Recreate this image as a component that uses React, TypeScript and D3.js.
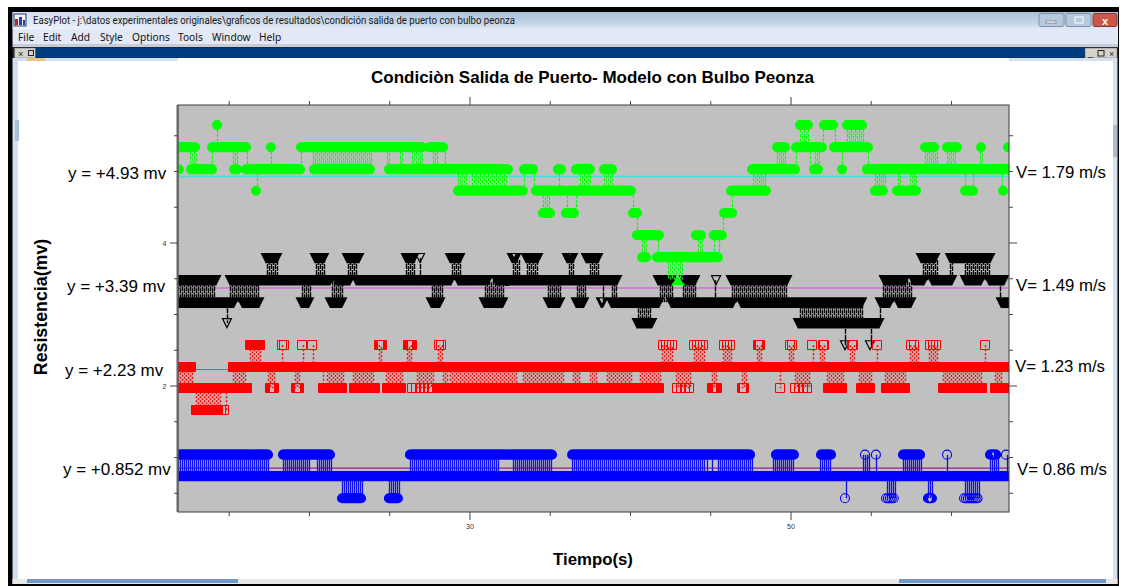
import React from "react";
import * as d3 from "d3";

type Run = number[];

const xDomain = [11.81, 63.58];
const yDomain = [0.238, 5.93];
const xTicks = [15, 20, 25, 30, 35, 40, 45, 50, 55, 60];
const xLabelled = [30, 50];
const yTicks = [0.5, 1, 1.5, 2, 2.5, 3, 3.5, 4, 4.5, 5, 5.5];
const yLabelled = [2, 4];

const title = "Condiciòn Salida de Puerto- Modelo con Bulbo Peonza";
const xTitle = "Tiempo(s)";
const yTitle = "Resistencia(mv)";
const meanLabels = ["y = +4.93 mv", "y = +3.39 mv", "y = +2.23 mv", "y = +0.852 mv"];
const speedLabels = ["V= 1.79 m/s", "V= 1.49 m/s", "V= 1.23 m/s", "V= 0.86 m/s"];
const meanValues = [4.93, 3.37, 2.23, 0.852];
const menuItems = ["File", "Edit", "Add", "Style", "Options", "Tools", "Window", "Help"];

// Each row: [level, runs]; a run is [tStart, tEnd, optional sampling interval]
const greenRows: [number, Run[]][] = [
  [5.65, [[14.24, 14.24], [50.56, 51.12], [52.06, 52.68], [53.49, 54.48]]],
  [5.34, [[11.81, 12.87], [13.93, 16.05], [17.6, 17.6], [19.47, 27.07], [27.45, 28.38], [49.13, 49.63], [50.31, 51.93], [52.68, 54.86], [58.35, 58.97], [59.72, 60.4], [61.84, 61.84], [63.52, 63.52]]],
  [5.03, [[11.8, 11.9], [12.62, 13.93], [15.3, 15.49], [16.05, 19.47], [20.28, 23.77], [24.95, 32.37], [33.37, 33.99], [35.48, 35.67], [36.6, 37.48], [38.35, 38.91], [47.57, 50.31], [51.43, 51.74], [53.18, 53.18], [54.73, 63.64]]],
  [4.73, [[16.67, 16.73], [29.25, 33.3], [34.11, 35.92], [36.23, 40.09], [46.26, 48.5], [55.23, 55.79], [56.6, 57.79], [60.84, 61.34], [63.21, 63.21]]],
  [4.42, [[34.55, 34.99], [35.98, 36.54], [40.16, 40.47], [45.83, 46.39]]],
  [4.11, [[40.4, 41.78], [44.08, 44.45], [45.2, 45.76]]],
  [3.8, [[40.72, 41.03], [41.65, 45.51]]],
];
const greenLinks: [number, number, Run[]][] = [
  [5.65, 5.34, [[14.24, 14.3], [50.56, 51.18], [51.99, 51.99], [52.74, 52.74], [53.49, 54.61]]],
  [5.34, 5.03, [[11.81, 11.93], [12.56, 13.0], [13.93, 13.93], [15.24, 15.49], [16.11, 16.11], [17.6, 17.6], [19.47, 19.47], [20.22, 23.96], [24.83, 25.02], [25.64, 25.83], [26.39, 27.07], [27.7, 27.95], [28.44, 28.44], [49.13, 49.75], [50.31, 50.31], [51.18, 51.18], [51.49, 51.74], [53.18, 53.18], [54.8, 54.8], [58.35, 59.1], [59.72, 60.34], [61.77, 61.96]]],
  [5.03, 4.73, [[16.73, 16.73], [29.25, 29.81], [30.13, 32.37], [33.37, 33.37], [33.99, 33.99], [35.55, 35.67], [36.85, 37.48], [38.35, 38.91], [47.63, 48.5], [55.23, 55.86], [56.67, 56.91], [57.41, 57.85], [60.84, 60.84], [61.34, 61.34], [63.14, 63.14]]],
  [4.73, 4.42, [[34.55, 34.99], [36.04, 36.04], [36.6, 36.6], [40.16, 40.16], [46.32, 46.32]]],
  [4.42, 4.11, [[40.4, 40.4], [45.76, 45.76]]],
  [4.11, 3.8, [[40.72, 41.03], [41.71, 41.71], [44.21, 44.52], [45.2, 45.2], [45.51, 45.51]]],
  [3.8, 3.49, [[42.34, 43.27]]],
];
const greenTip = [[42.96, 3.47]];

const blackRows: [number, Run[]][] = [
  [3.79, [[17.29, 17.98], [20.34, 20.91], [22.34, 23.09], [26.01, 26.51], [26.89, 26.89], [28.76, 29.44], [32.62, 32.93], [33.49, 34.24], [36.04, 36.42], [37.23, 37.98], [58.1, 59.03], [59.91, 62.46]]],
  [3.48, [[11.81, 14.18], [15.05, 21.28], [21.65, 22.53], [22.9, 28.88], [29.25, 31.12], [31.62, 39.16], [41.71, 42.59], [43.33, 44.02], [45.33, 45.33], [46.26, 49.75], [55.79, 57.1], [57.6, 58.29], [58.78, 60.03], [60.84, 61.84], [62.33, 63.27]]],
  [3.17, [[11.81, 15.3], [15.8, 16.92], [19.47, 19.97], [21.28, 22.03], [27.57, 28.19], [30.87, 32.06], [34.86, 35.61], [36.6, 37.1], [38.16, 38.29], [38.79, 41.84], [42.52, 46.39], [46.88, 54.42], [55.54, 56.17], [56.67, 57.54], [63.08, 63.64]]],
  [2.88, [[14.86, 14.86], [40.4, 41.34], [50.44, 55.54]]],
  [2.57, [[53.36, 53.36], [54.92, 54.98]]],
];
const blackLinks: [number, number, Run[]][] = [
  [3.79, 3.48, [[17.35, 17.98], [20.41, 20.91], [22.4, 23.02], [26.01, 26.57], [26.89, 26.89], [28.88, 29.5], [32.68, 33.12], [33.55, 34.24], [36.17, 36.42], [37.48, 37.98], [58.22, 59.1], [59.91, 60.09], [60.84, 62.4]]],
  [3.48, 3.17, [[11.81, 14.11], [15.05, 16.92], [19.53, 20.03], [21.4, 22.03], [27.63, 28.26], [30.94, 32.18], [34.86, 35.61], [36.67, 37.17], [38.29, 38.29], [38.85, 39.16], [41.84, 42.59], [43.27, 44.14], [45.26, 45.26], [46.32, 49.75], [55.73, 57.54], [63.02, 63.02]]],
  [3.17, 2.88, [[14.86, 14.86], [40.47, 41.34], [50.56, 54.48], [55.54, 55.54]]],
  [2.88, 2.57, [[53.36, 53.36], [54.98, 54.98]]],
];

const redRows: [number, Run[]][] = [
  [2.57, [[16.3, 16.98], [18.29, 18.41, 0.12], [19.53, 19.53], [20.16, 20.16], [24.33, 24.52], [26.14, 26.39], [28.07, 28.19, 0.12], [42.02, 42.59, 0.19], [43.96, 44.58, 0.19], [45.83, 46.32, 0.19], [47.94, 48.07], [49.94, 50.06, 0.12], [51.31, 51.31], [51.99, 52.06], [53.8, 53.92], [55.36, 55.36], [57.48, 57.85, 0.19], [58.66, 59.1, 0.19], [62.09, 62.09]]],
  [2.27, [[11.81, 12.62], [15.24, 63.58]]],
  [1.97, [[11.81, 16.11], [17.54, 17.85], [19.16, 19.35], [20.84, 22.03], [22.77, 24.08], [24.83, 25.76], [26.39, 27.82, 0.25], [28.01, 41.84], [42.9, 43.71, 0.25], [45.08, 45.45], [46.95, 47.13], [49.31, 49.31], [50.25, 51.12, 0.25], [52.3, 53.18], [54.36, 54.98], [55.92, 57.16], [59.47, 61.9], [62.71, 63.58]]],
  [1.66, [[12.93, 14.3], [14.3, 14.8, 0.19]]],
];
const redLinks: [number, number, Run[]][] = [
  [2.57, 2.27, [[16.3, 17.04], [18.29, 18.41], [19.6, 19.6], [20.22, 20.22], [24.33, 24.52], [26.08, 26.45], [28.01, 28.26], [41.96, 42.65], [43.96, 44.7], [45.76, 46.38], [47.88, 48.13], [49.87, 50.12], [51.37, 51.37], [51.81, 52.12], [53.68, 54.0], [55.36, 55.36], [57.41, 57.91], [58.6, 59.1], [62.09, 62.09]]],
  [2.27, 1.97, [[11.81, 12.74], [15.24, 16.11], [17.42, 17.91], [19.1, 19.35], [20.84, 20.84], [21.09, 22.09], [22.71, 24.02], [24.77, 25.83], [26.7, 27.82], [28.32, 28.57], [28.76, 33.0], [33.3, 35.92], [36.42, 36.85], [37.48, 37.91], [38.54, 40.09], [40.59, 41.9], [42.83, 43.71], [45.08, 45.45], [46.95, 47.2], [49.31, 49.31], [50.25, 51.18], [52.24, 53.24], [54.24, 55.11], [55.86, 57.23], [59.47, 61.96], [62.71, 63.14]]],
  [1.97, 1.66, [[12.93, 14.55], [14.8, 14.8]]],
];

const blueRows: [number, Run[]][] = [
  [1.04, [[11.81, 17.42], [18.35, 21.28], [26.26, 35.11], [36.36, 47.51], [49.06, 50.19], [51.87, 52.55], [54.61, 54.67], [55.29, 55.29], [56.98, 58.1], [59.72, 59.72], [62.4, 62.83], [63.39, 63.39]]],
  [0.74, [[11.81, 63.58]]],
  [0.43, [[22.03, 23.27], [24.95, 25.52], [53.36, 53.36], [55.92, 56.48, 0.12], [58.53, 58.78], [60.78, 61.71, 0.12]]],
];
const blueLinks: [number, number, Run[]][] = [
  [1.04, 0.74, [[11.81, 17.54], [18.35, 20.03], [20.47, 21.4], [26.26, 31.87], [32.68, 35.17], [36.36, 44.77], [45.08, 45.08], [45.45, 47.63], [48.88, 50.25], [51.81, 52.55], [54.48, 54.92], [55.29, 55.29], [56.98, 58.16], [59.72, 59.72], [62.4, 62.9], [63.46, 63.46]]],
  [0.74, 0.43, [[22.03, 23.34], [24.95, 25.58], [53.42, 53.42], [55.98, 56.6], [58.53, 58.85], [60.84, 61.77]]],
];

const FRAME = { left: 178, right: 1009, top: 105, bottom: 512 };
const x = d3.scaleLinear().domain(xDomain).range([FRAME.left, FRAME.right]);
const y = d3.scaleLinear().domain(yDomain).range([FRAME.bottom, FRAME.top]);

const SAMPLE = 0.0623;
type Shape = "circle" | "tri" | "square" | "ring";
function drawShape(p: d3.Path, s: Shape, px: number, py: number) {
  if (s === "circle" || s === "ring") {
    const r = s === "circle" ? 5 : 4.5;
    p.moveTo(px + r, py);
    p.arc(px, py, r, 0, Math.PI * 2);
  } else if (s === "tri") {
    p.moveTo(px - 4.5, py - 4.5);
    p.lineTo(px + 4.5, py - 4.5);
    p.lineTo(px, py + 4.5);
    p.closePath();
  } else {
    p.rect(Math.round(px) - 4.5, Math.round(py) - 4.5, 9, 9);
  }
}
function markers(rows: [number, Run[]][], s: Shape): string {
  const p = d3.path();
  rows.forEach(([lv, runs]) => {
    const py = y(lv);
    runs.forEach(([a, b, step]) => {
      const h = step ?? SAMPLE;
      for (let t = a; t <= b + 1e-6; t += h) drawShape(p, s, x(t), py);
    });
  });
  return p.toString();
}
function links(rows: [number, number, Run[]][], spacing: number, stagger: number): string {
  const p = d3.path();
  rows.forEach(([hi, lo, runs]) => {
    const y0 = y(hi);
    const y1 = y(lo);
    runs.forEach(([a, b]) => {
      let k = 0;
      for (let t = a; t <= b + 1e-6; t += spacing) {
        const px = Math.round(x(t)) + 0.5;
        p.moveTo(px, y0 + (k % 2) * stagger);
        p.lineTo(px, y1);
        k++;
      }
    });
  });
  return p.toString();
}

const menuX = [18, 43, 71, 100, 132, 178, 212, 259];
const meanLabelPos = [[68, 179], [67, 292], [65, 376], [63, 475]];
const speedLabelPos = [[1016, 178], [1016, 291], [1015, 372], [1017, 475]];

function WinButton({ bx, w, red }: { bx: number; w: number; red?: boolean }) {
  return (
    <rect x={bx} y={13.5} width={w} height={13} rx={2}
      fill={red ? "#c9584a" : "#b4c8de"} stroke={red ? "#8a3a30" : "#7f93a8"} strokeWidth={1} />
  );
}

export default function App() {
  const sans = "'Liberation Sans', Arial, sans-serif";
  const ui = "'Noto Sans', 'Open Sans', sans-serif";
  return (
    <svg width={1121} height={586} viewBox="0 0 1121 586"
      style={{ position: "absolute", left: 0, top: 0, background: "#ffffff" }}>
      <defs>
        <linearGradient id="tb" x1="0" y1="0" x2="0" y2="1">
          <stop offset="0" stopColor="#a9bfd8" />
          <stop offset="0.7" stopColor="#c6d6e8" />
          <stop offset="1" stopColor="#dfe8f3" />
        </linearGradient>
        <linearGradient id="tb2" x1="0" y1="0" x2="1" y2="0">
          <stop offset="0" stopColor="#ffffff" stopOpacity="0.55" />
          <stop offset="0.45" stopColor="#ffffff" stopOpacity="0.25" />
          <stop offset="1" stopColor="#ffffff" stopOpacity="0" />
        </linearGradient>
        <clipPath id="plot">
          <rect x={FRAME.left} y={FRAME.top} width={FRAME.right - FRAME.left} height={FRAME.bottom - FRAME.top} />
        </clipPath>
      </defs>

      {/* window chrome */}
      <rect x={8} y={7} width={1111} height={579} fill="#000" />
      <rect x={12.5} y={12} width={1105.5} height={17} fill="url(#tb)" />
      <rect x={12.5} y={12} width={500} height={17} fill="url(#tb2)" />
      <rect x={12.5} y={29} width={1105.5} height={15} fill="#e2e8f6" />
      <rect x={12.5} y={44} width={1105.5} height={3} fill="#c8ccd4" />
      <rect x={12.5} y={47} width={1105.5} height={11} fill="#1c2a3a" />
      <rect x={36} y={48} width={1061} height={9.5} fill="#003c7f" />
      <rect x={14.5} y={48} width={21} height={10} fill="#d6d3cc" stroke="#555" strokeWidth={0.5} />
      <rect x={1085} y={48} width={32} height={10} fill="#d6d3cc" stroke="#555" strokeWidth={0.5} />
      <text x={18} y={56.5} fontSize={9} fontFamily={sans} fill="#222">×</text>
      <rect x={28.5} y={50.5} width={5} height={5} fill="none" stroke="#222" strokeWidth={1} />
      <text x={1088} y={56} fontSize={9} fontFamily={sans} fill="#111">_</text>
      <rect x={1098} y={50.5} width={6} height={5.5} fill="none" stroke="#222" strokeWidth={1} />
      <text x={1109} y={56.5} fontSize={9} fontFamily={sans} fill="#222">×</text>

      {/* client area */}
      <rect x={12.5} y={58} width={1105} height={526} fill="#d3e0ef" />
      <rect x={18} y={61} width={1095} height={518} fill="#ffffff" />
      <rect x={178} y={58} width={831} height={3} fill="#ffffff" />
      <rect x={27} y={58} width={18} height={3} fill="#e4c57f" />
      <rect x={15} y={120} width={4} height={21} fill="#a8c0dc" />
      <rect x={1113} y={125} width={4} height={32} fill="#a8bcd2" />
      <rect x={12.5} y={579} width={1105} height={5} fill="#e6e8ea" />
      <rect x={27} y={579} width={211} height={4} fill="#6f97c9" />
      <rect x={899} y={579} width={207} height={4} fill="#6f97c9" />

      {/* title bar text */}
      <rect x={14} y={14} width={12} height={12} fill="#f4f4f4" stroke="#223a7a" strokeWidth={1} />
      <rect x={15} y={19} width={3} height={6} fill="#c02020" />
      <rect x={19} y={17} width={3} height={8} fill="#2040b0" />
      <rect x={23} y={20} width={2} height={5} fill="#2040b0" />
      <text x={33} y={24} fontSize={10} fontFamily="Roboto, sans-serif" fill="#1a1a1a" textLength={482} lengthAdjust="spacingAndGlyphs">
        {"EasyPlot - j:\\datos experimentales originales\\graficos de resultados\\condición salida de puerto con bulbo peonza"}
      </text>
      {menuItems.map((m, i) => (
        <text key={m} x={menuX[i]} y={41} fontSize={10.2} fontFamily={ui} fill="#111">{m}</text>
      ))}
      <WinButton bx={1039} w={25} />
      <WinButton bx={1066} w={25} />
      <WinButton bx={1093} w={24} red />
      <rect x={1046} y={21} width={10} height={2} fill="#fff" stroke="#445" strokeWidth={0.5} />
      <rect x={1075} y={17} width={8} height={6} fill="none" stroke="#fff" strokeWidth={1} />
      <text x={1105} y={24.5} textAnchor="middle" fontSize={11} fontWeight="bold" fontFamily={sans} fill="#fff">x</text>

      {/* plot */}
      <rect x={FRAME.left} y={FRAME.top} width={FRAME.right - FRAME.left} height={FRAME.bottom - FRAME.top} fill="#c0c0c0" />
      <g clipPath="url(#plot)">
        <line x1={FRAME.left} x2={FRAME.right} y1={y(meanValues[0])} y2={y(meanValues[0])} stroke="#3fdcdc" strokeWidth={1.3} />
        <line x1={FRAME.left} x2={FRAME.right} y1={y(meanValues[1])} y2={y(meanValues[1])} stroke="#d070d8" strokeWidth={1.6} />
        <line x1={FRAME.left} x2={FRAME.right} y1={y(meanValues[2])} y2={y(meanValues[2])} stroke="#3a8f8f" strokeWidth={1} />
        <line x1={FRAME.left} x2={FRAME.right} y1={y(meanValues[3])} y2={y(meanValues[3])} stroke="#a02080" strokeWidth={1.2} />

        <path d={links(blackLinks, 0.125, 2)} stroke="#000" strokeWidth={1.4} strokeDasharray="5 1" fill="none" />
        <path d={markers(blackRows, "tri")} stroke="#000" strokeWidth={1.2} fill="none" />

        <path d={links(greenLinks, 0.125, 2)} stroke="#00ff00" strokeWidth={1.2} strokeDasharray="3 1.5" fill="none" />
        <path d={markers(greenRows, "circle")} fill="#00ff00" />
        {greenTip.map(([t, v], i) => (
          <path key={i} d={d3.line()([[x(t) - 7, y(v) + 4], [x(t), y(v) - 4], [x(t) + 7, y(v) + 4]]) + "Z"} fill="#00ff00" />
        ))}

        <path d={links(redLinks, 0.125, 2)} stroke="#ff0000" strokeWidth={1.5} strokeDasharray="2 2" fill="none" />
        <path d={markers(redRows, "square")} stroke="#ff0000" strokeWidth={1} fill="none" />

        <path d={links(blueLinks, 0.125, 0)} stroke="#1010ee" strokeWidth={1.3} fill="none" />
        <path d={markers(blueRows, "ring")} stroke="#0000ff" strokeWidth={1.1} fill="none" />
      </g>
      <rect x={FRAME.left} y={FRAME.top} width={FRAME.right - FRAME.left} height={FRAME.bottom - FRAME.top}
        fill="none" stroke="#3c3c3c" strokeWidth={1} />
      <line x1={FRAME.left - 0.5} x2={FRAME.left - 0.5} y1={FRAME.top} y2={FRAME.bottom} stroke="#666" strokeWidth={2} />

      {/* axes */}
      {xTicks.map((t) => {
        const major = xLabelled.includes(t);
        const len = major ? 8 : 4;
        return (
          <g key={t}>
            <line x1={x(t)} x2={x(t)} y1={FRAME.top} y2={FRAME.top - len} stroke="#444" />
            <line x1={x(t)} x2={x(t)} y1={FRAME.bottom} y2={FRAME.bottom + len} stroke="#444" />
            {major && <text x={x(t)} y={528.5} textAnchor="middle" fontSize={7} fontFamily={sans} fill="#333">{t}</text>}
          </g>
        );
      })}
      {yTicks.map((t) => {
        const major = yLabelled.includes(t);
        const len = major ? 8 : 4;
        return (
          <g key={t}>
            <line x1={FRAME.left} x2={FRAME.left - len} y1={y(t)} y2={y(t)} stroke="#444" />
            <line x1={FRAME.right} x2={FRAME.right + len} y1={y(t)} y2={y(t)} stroke="#444" />
            {major && <text x={164.5} y={y(t) + 2.5} textAnchor="middle" fontSize={7} fontFamily={sans} fill="#333">{t}</text>}
          </g>
        );
      })}

      {/* labels */}
      <text x={592.5} y={83} textAnchor="middle" fontSize={17} fontWeight="bold" fontFamily={sans} fill="#000">{title}</text>
      <text x={593} y={565} textAnchor="middle" fontSize={16.8} fontWeight="bold" fontFamily={sans} fill="#000">{xTitle}</text>
      <text transform="translate(47,307) rotate(-90)" textAnchor="middle" fontSize={17.8} fontWeight="bold" fontFamily={sans} fill="#000">{yTitle}</text>
      {meanLabels.map((s, i) => (
        <text key={s} x={meanLabelPos[i][0]} y={meanLabelPos[i][1]} fontSize={17} fontFamily={sans} fill="#000">{s}</text>
      ))}
      {speedLabels.map((s, i) => (
        <text key={s} x={speedLabelPos[i][0]} y={speedLabelPos[i][1]} fontSize={16.8} fontFamily={sans} fill="#000">{s}</text>
      ))}
    </svg>
  );
}
